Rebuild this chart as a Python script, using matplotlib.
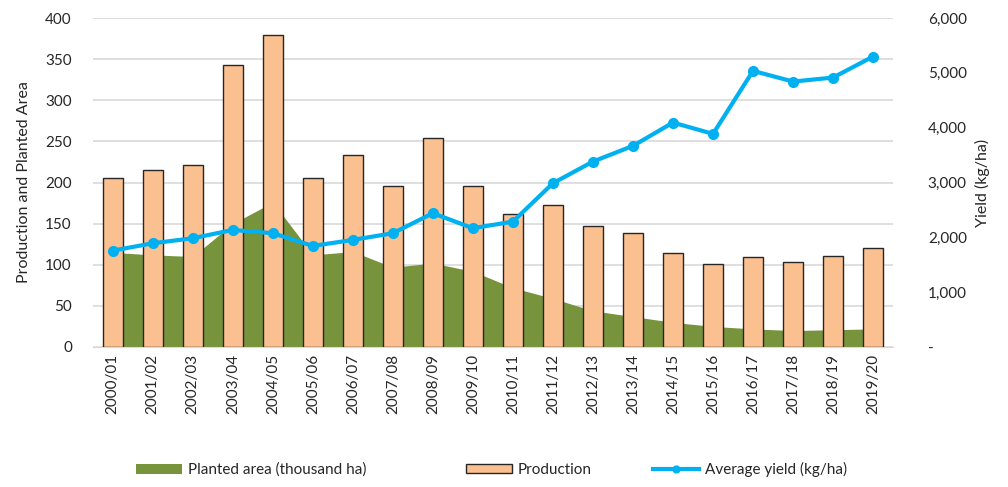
"""Planted area, production and yield chart."""
import matplotlib.pyplot as plt
from matplotlib.ticker import FuncFormatter

plt.rcParams["font.family"] = ["Lato", "DejaVu Sans"]

seasons = ["2000/01", "2001/02", "2002/03", "2003/04", "2004/05", "2005/06", "2006/07",
           "2007/08", "2008/09", "2009/10", "2010/11", "2011/12", "2012/13", "2013/14",
           "2014/15", "2015/16", "2016/17", "2017/18", "2018/19", "2019/20"]
production = [205, 215, 221, 343, 379, 205, 233, 196, 254, 196, 162, 173, 147, 139,
              114, 101, 109, 103, 111, 120]
planted_area = [115, 112, 110, 150, 176, 112, 116, 97, 102, 92, 72, 59, 44, 37,
                30, 25, 22, 20, 21, 22]
avg_yield = [1757, 1892, 1983, 2135, 2075, 1843, 1953, 2075, 2440, 2166, 2287, 2987,
             3382, 3668, 4093, 3887, 5036, 4841, 4914, 5297]

x = list(range(len(seasons)))
text_color = "#262626"

fig = plt.figure(figsize=(10.08, 4.87), dpi=100)
ax = fig.add_axes([0.092, 0.2875, 0.794, 0.6755])

ax.fill_between(x, planted_area, color="#77933C", linewidth=0, zorder=2,
                label="Planted area (thousand ha)")
ax.bar(x, production, width=0.5, color="#FAC090", edgecolor="#262626", linewidth=1.0,
       zorder=3, label="Production")

ax.set_xlim(-0.5, len(seasons) - 0.5)
ax.set_ylim(0, 400)
ax.set_yticks(range(0, 401, 50))
ax.grid(axis="y", color="#D9D9D9", linewidth=1.2, zorder=0)
ax.set_axisbelow(True)
ax.set_xticks(x)
ax.set_xticklabels(seasons, rotation=90)
ax.tick_params(axis="y", length=0, labelsize=11, pad=15, labelcolor=text_color)
ax.tick_params(axis="x", length=0, labelsize=11, pad=5, labelcolor=text_color)
for s in ["top", "left", "right"]:
    ax.spines[s].set_visible(False)
ax.spines["bottom"].set_color("#D9D9D9")
ax.set_ylabel("Production and Planted Area", fontsize=11.5, color=text_color, labelpad=10)

ax2 = ax.twinx()
ax2.plot(x, avg_yield, color="#00B0F0", linewidth=3, marker="o", markersize=7,
         zorder=4, label="Average yield (kg/ha)")
ax2.set_ylim(0, 6000)
ax2.set_yticks(range(0, 6001, 1000))
ax2.yaxis.set_major_formatter(FuncFormatter(lambda v, p: "-" if v == 0 else f"{int(v):,}"))
ax2.tick_params(axis="y", length=0, labelsize=11, pad=25, labelcolor=text_color)
for s in ["top", "left", "right", "bottom"]:
    ax2.spines[s].set_visible(False)
ax2.set_ylabel("Yield (kg/ha)", fontsize=11.5, color=text_color, labelpad=6)

# one legend entry each, placed where the reference puts them
h1, l1 = ax.get_legend_handles_labels()
h2, l2 = ax2.get_legend_handles_labels()
handles = h1 + h2
labels = l1 + l2
starts = [122, 452, 639]
for h, l, px in zip(handles, labels, starts):
    fig.legend([h], [l], loc="center left", bbox_to_anchor=(px / 1008, 0.035),
               frameon=False, fontsize=11, handlelength=3.0, handleheight=0.6,
               handletextpad=0.4, markerscale=0.7, labelcolor=text_color)

fig.savefig("out.png", dpi=100)
